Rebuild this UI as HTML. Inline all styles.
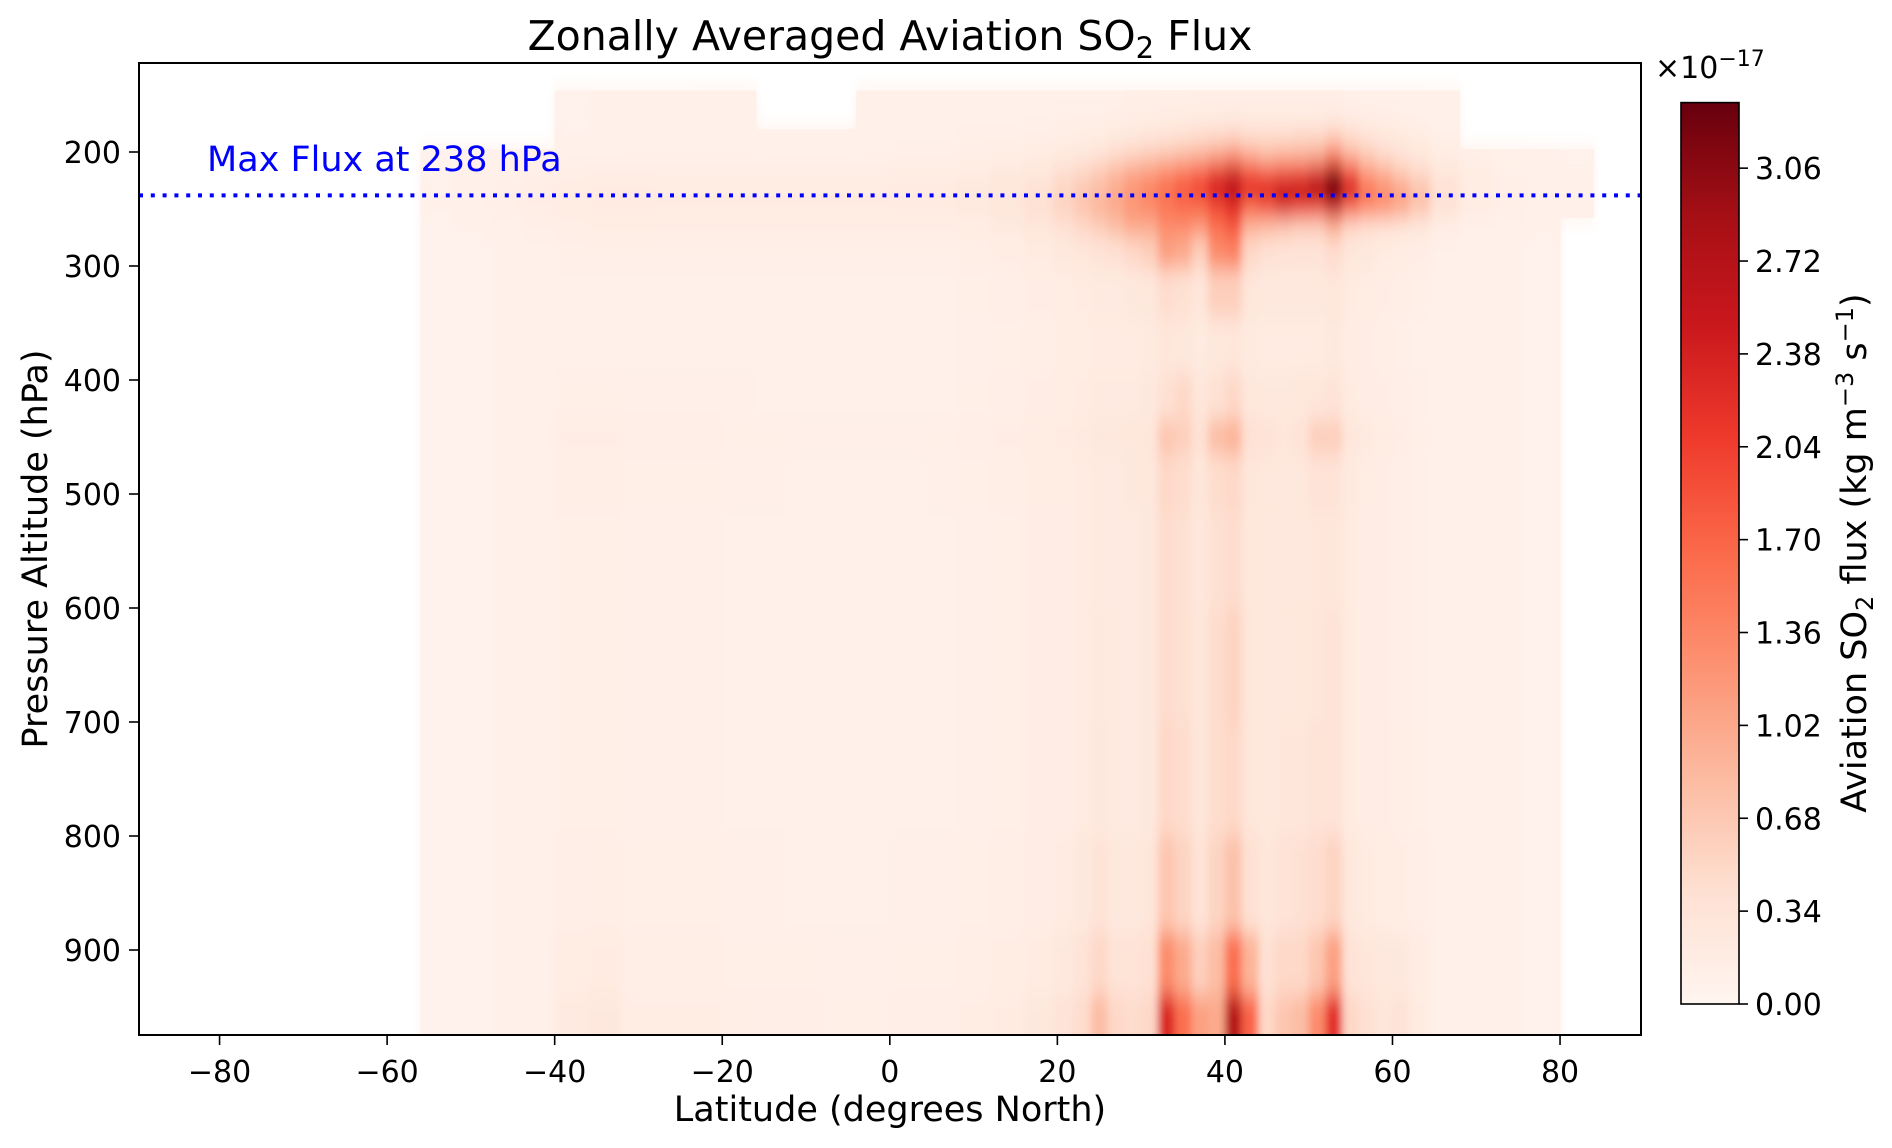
<!DOCTYPE html>
<html><head><meta charset="utf-8">
<style>
html,body{margin:0;padding:0;background:#fff;}
svg{display:block;font-family:"DejaVu Sans","Liberation Sans",sans-serif;}
</style></head>
<body>
<svg id="chart" width="1892" height="1148" viewBox="0 0 1892 1148" xmlns="http://www.w3.org/2000/svg">
<defs>
<clipPath id="plotclip"><rect x="139" y="63" width="1502" height="972"/></clipPath>
<filter id="blur" x="-5%" y="-10%" width="110%" height="120%"><feGaussianBlur stdDeviation="4 11"/></filter>
<linearGradient id="cbgrad" x1="0" y1="1" x2="0" y2="0">
<stop offset="0" stop-color="#fff5f0"/><stop offset="0.125" stop-color="#fee0d2"/><stop offset="0.25" stop-color="#fcbba1"/><stop offset="0.375" stop-color="#fc9272"/><stop offset="0.5" stop-color="#fb6a4a"/><stop offset="0.625" stop-color="#ef3b2c"/><stop offset="0.75" stop-color="#cb181d"/><stop offset="0.875" stop-color="#a50f15"/><stop offset="1" stop-color="#67000d"/>
</linearGradient>
</defs>
<text x="890" y="50" font-size="41" text-anchor="middle">Zonally Averaged Aviation SO<tspan font-size="29" dy="8">2</tspan><tspan dy="-8"> Flux</tspan></text>
<g id="heat" clip-path="url(#plotclip)"></g>
<g id="axes"></g>
<g id="cbar"></g>
</svg>
<script>
const lats = [-54,-50,-46,-42,-38,-34,-30,-26,-22,-18,-14,-10,-6,-2,2,6,10,14,18,21,23,25,27,29,31,33,35,37,39,41,43,45,47,49,51,53,55,57,59,61,63,66,70,74,78,82];
const levels = [150,170,190,205,220,235,250,265,285,320,370,420,450,480,550,650,750,850,920,960];
const N = null;
const flux = [
[N,N,N,N,0.07,0.08,0.08,0.08,0.09,0.09,N,N,N,0.09,0.09,0.09,0.1,0.1,0.1,0.1,0.1,0.1,0.1,0.12,0.12,0.12,0.12,0.12,0.12,0.12,0.12,0.12,0.12,0.12,0.12,0.12,0.1,0.1,0.1,0.1,0.1,0.08,N,N,N,N],
[N,N,N,N,0.07,0.08,0.08,0.08,0.09,0.09,N,N,N,0.09,0.09,0.1,0.1,0.1,0.1,0.12,0.12,0.12,0.14,0.15,0.16,0.18,0.18,0.2,0.2,0.22,0.2,0.2,0.2,0.2,0.2,0.22,0.18,0.15,0.14,0.12,0.1,0.08,N,N,N,N],
[N,N,N,N,0.08,0.08,0.09,0.09,0.1,0.1,0.1,0.1,0.1,0.1,0.1,0.1,0.12,0.12,0.14,0.16,0.18,0.2,0.25,0.3,0.35,0.4,0.45,0.5,0.55,0.6,0.5,0.5,0.5,0.55,0.55,0.7,0.5,0.4,0.3,0.25,0.2,0.12,N,N,N,N],
[0.07,0.07,0.07,0.08,0.1,0.1,0.1,0.1,0.1,0.1,0.1,0.1,0.1,0.1,0.12,0.12,0.14,0.16,0.2,0.25,0.3,0.4,0.5,0.6,0.7,0.8,0.9,1.0,1.2,1.4,1.1,0.9,1.0,1.0,1.1,1.6,1.0,0.7,0.5,0.4,0.3,0.2,0.12,0.1,0.08,0.07],
[0.07,0.08,0.1,0.12,0.14,0.16,0.16,0.16,0.16,0.16,0.16,0.16,0.16,0.16,0.18,0.18,0.2,0.25,0.3,0.45,0.55,0.7,0.9,1.1,1.2,1.4,1.6,1.8,2.2,2.5,2.0,1.9,2.0,2.1,2.4,3.0,2.0,1.2,1.0,0.7,0.5,0.3,0.18,0.12,0.1,0.08],
[0.08,0.1,0.12,0.15,0.2,0.22,0.22,0.2,0.2,0.2,0.2,0.2,0.2,0.2,0.22,0.22,0.25,0.3,0.4,0.55,0.7,0.8,1.0,1.2,1.4,1.6,1.8,2.0,2.4,2.6,2.2,2.3,2.6,2.6,2.8,3.3,2.4,1.6,1.3,1.1,0.8,0.4,0.2,0.12,0.1,0.08],
[0.08,0.1,0.12,0.15,0.18,0.2,0.2,0.2,0.2,0.2,0.2,0.2,0.2,0.2,0.2,0.2,0.22,0.3,0.4,0.55,0.7,0.9,1.0,1.2,1.3,1.5,1.6,1.6,1.9,2.2,1.6,1.8,2.2,2.0,1.9,2.4,1.6,1.3,1.2,1.0,0.7,0.35,0.18,0.12,0.1,0.08],
[0.07,0.08,0.1,0.12,0.14,0.16,0.16,0.15,0.15,0.15,0.15,0.15,0.15,0.15,0.15,0.15,0.18,0.22,0.3,0.4,0.5,0.6,0.8,1.0,1.0,1.3,1.3,1.2,1.6,1.8,0.9,0.8,0.7,0.6,0.6,0.9,0.5,0.4,0.35,0.3,0.25,0.15,0.1,0.09,0.08,N],
[0.07,0.07,0.08,0.1,0.12,0.12,0.12,0.12,0.12,0.12,0.12,0.12,0.12,0.12,0.12,0.12,0.14,0.16,0.2,0.25,0.3,0.35,0.4,0.5,0.6,1.1,1.0,0.6,1.3,1.4,0.5,0.4,0.35,0.35,0.35,0.45,0.3,0.25,0.2,0.18,0.15,0.1,0.08,0.08,0.07,N],
[0.07,0.07,0.08,0.09,0.1,0.1,0.1,0.1,0.1,0.1,0.1,0.1,0.1,0.1,0.1,0.1,0.12,0.13,0.15,0.18,0.2,0.22,0.22,0.25,0.28,0.45,0.4,0.3,0.6,0.6,0.3,0.25,0.25,0.25,0.25,0.3,0.2,0.18,0.15,0.14,0.12,0.09,0.08,0.08,0.07,N],
[0.07,0.07,0.08,0.09,0.1,0.1,0.1,0.1,0.1,0.1,0.1,0.1,0.1,0.1,0.1,0.1,0.11,0.12,0.14,0.16,0.18,0.2,0.2,0.2,0.22,0.3,0.28,0.22,0.28,0.3,0.22,0.2,0.2,0.2,0.2,0.24,0.18,0.15,0.14,0.12,0.1,0.08,0.08,0.08,0.07,N],
[0.07,0.07,0.08,0.09,0.12,0.12,0.11,0.11,0.11,0.11,0.1,0.1,0.1,0.1,0.1,0.1,0.12,0.13,0.15,0.18,0.2,0.22,0.22,0.22,0.25,0.4,0.5,0.3,0.4,0.5,0.28,0.25,0.25,0.28,0.3,0.35,0.2,0.17,0.15,0.13,0.11,0.08,0.08,0.08,0.07,N],
[0.07,0.07,0.08,0.1,0.15,0.15,0.13,0.13,0.13,0.12,0.12,0.11,0.11,0.11,0.11,0.12,0.13,0.15,0.18,0.2,0.22,0.25,0.25,0.28,0.3,0.7,0.6,0.4,0.8,0.9,0.4,0.35,0.3,0.35,0.6,0.6,0.3,0.22,0.18,0.15,0.12,0.09,0.08,0.08,0.07,N],
[0.07,0.07,0.08,0.1,0.14,0.14,0.12,0.12,0.12,0.11,0.11,0.1,0.1,0.1,0.1,0.11,0.12,0.14,0.16,0.18,0.2,0.22,0.22,0.25,0.28,0.5,0.45,0.3,0.45,0.5,0.3,0.28,0.25,0.28,0.35,0.35,0.22,0.18,0.15,0.13,0.11,0.08,0.08,0.08,0.07,N],
[0.07,0.07,0.08,0.09,0.12,0.12,0.11,0.11,0.11,0.1,0.1,0.1,0.1,0.1,0.1,0.1,0.11,0.12,0.15,0.17,0.2,0.22,0.22,0.22,0.25,0.45,0.4,0.28,0.4,0.45,0.28,0.25,0.25,0.25,0.3,0.3,0.2,0.17,0.15,0.13,0.11,0.08,0.08,0.08,0.07,N],
[0.07,0.07,0.08,0.09,0.12,0.12,0.11,0.11,0.11,0.1,0.1,0.1,0.1,0.1,0.1,0.1,0.11,0.12,0.15,0.17,0.2,0.24,0.22,0.22,0.25,0.45,0.4,0.3,0.45,0.55,0.3,0.25,0.28,0.28,0.3,0.35,0.2,0.17,0.15,0.13,0.11,0.08,0.08,0.08,0.07,N],
[0.07,0.07,0.08,0.09,0.12,0.12,0.11,0.11,0.11,0.1,0.1,0.1,0.1,0.1,0.1,0.1,0.11,0.12,0.15,0.17,0.2,0.25,0.22,0.22,0.25,0.5,0.45,0.3,0.45,0.5,0.3,0.25,0.3,0.3,0.35,0.35,0.2,0.17,0.15,0.14,0.12,0.08,0.08,0.08,0.07,N],
[0.07,0.07,0.08,0.09,0.13,0.14,0.12,0.12,0.12,0.11,0.11,0.1,0.1,0.1,0.11,0.11,0.12,0.14,0.17,0.2,0.25,0.35,0.25,0.25,0.3,0.7,0.55,0.35,0.55,0.75,0.4,0.3,0.35,0.4,0.45,0.55,0.25,0.2,0.18,0.16,0.13,0.09,0.08,0.08,0.07,N],
[0.07,0.07,0.08,0.1,0.18,0.2,0.14,0.14,0.14,0.12,0.12,0.12,0.11,0.11,0.12,0.12,0.14,0.16,0.2,0.25,0.35,0.5,0.35,0.35,0.4,1.3,1.0,0.6,0.8,1.6,0.9,0.4,0.5,0.5,0.7,1.1,0.35,0.3,0.25,0.25,0.18,0.1,0.08,0.08,0.07,N],
[0.07,0.07,0.08,0.1,0.22,0.25,0.16,0.16,0.16,0.14,0.13,0.13,0.12,0.12,0.13,0.13,0.16,0.2,0.25,0.35,0.45,0.8,0.5,0.45,0.5,2.3,1.6,1.1,1.0,2.7,1.7,0.5,0.7,0.8,1.3,2.2,0.5,0.4,0.3,0.35,0.2,0.1,0.08,0.08,0.07,N]
];
const cbTicks = [0.00,0.34,0.68,1.02,1.36,1.70,2.04,2.38,2.72,3.06];
const xTicks = [-80,-60,-40,-20,0,20,40,60,80];
const yTicks = [200,300,400,500,600,700,800,900];
const maxFluxP = 238;

const VMAX = 3.3;
const xs = lat => 889.8 + lat * 8.378;
const ys = p => 152 + (p - 200) * 1.14;
const cy = v => 1004 - v * (901.4 / VMAX);
const stops = [[0,[255,245,240]],[0.125,[254,224,210]],[0.25,[252,187,161]],[0.375,[252,146,114]],[0.5,[251,106,74]],[0.625,[239,59,44]],[0.75,[203,24,29]],[0.875,[165,15,21]],[1,[103,0,13]]];
function cmap(v){
  let t = Math.max(0, Math.min(1, v / VMAX));
  for (let i = 1; i < stops.length; i++) {
    if (t <= stops[i][0]) {
      const a = stops[i-1], b = stops[i], f = (t - a[0]) / (b[0] - a[0]);
      const c = a[1].map((x, k) => Math.round(x + (b[1][k] - x) * f));
      return `rgb(${c[0]},${c[1]},${c[2]})`;
    }
  }
  return 'rgb(103,0,13)';
}
const NS = 'http://www.w3.org/2000/svg';
function mk(tag, attrs, parent){ const e = document.createElementNS(NS, tag); for (const k in attrs) e.setAttribute(k, attrs[k]); parent.appendChild(e); return e; }

const latEdges = lats.map((l, i) => i === 0 ? l - 2 : (lats[i-1] + l) / 2); latEdges.push(lats[lats.length-1] + 2);
const pEdges = levels.map((p, i) => i === 0 ? 146 : (levels[i-1] + p) / 2); pEdges.push(975);

const heat = document.getElementById('heat');
const crisp = mk('g', {}, heat);


const soft = mk('g', {filter: 'url(#blur)'}, heat);


for (let j = 0; j < levels.length; j++) {
  for (let i = 0; i < lats.length; i++) {
    const v = flux[j][i];
    if (v === null) continue;
    const x0 = xs(latEdges[i]), x1 = xs(latEdges[i+1]), y0 = ys(pEdges[j]), y1 = ys(pEdges[j+1]);
    const r1 = mk('rect', {x: x0, y: y0, width: x1 - x0 + 0.6, height: y1 - y0 + 0.6, fill: cmap(Math.min(v, 0.12))}, crisp);
    
    
    const extra = (j === levels.length - 1) ? 30 : 0;
    const r2 = mk('rect', {x: x0, y: y0, width: x1 - x0 + 0.6, height: y1 - y0 + 0.6 + extra, fill: cmap(v)}, soft);
    
    
  }
}

const axes = document.getElementById('axes');
const ml = mk('line', {x1: 139, x2: 1641, y1: ys(maxFluxP), y2: ys(maxFluxP), stroke: '#0000ff', 'stroke-width': 4, 'stroke-dasharray': '4 7.8'}, axes);


const mt = mk('text', {x: 207, y: 171, 'font-size': 35, fill: '#0000ff'}, axes);
mt.textContent = 'Max Flux at ' + maxFluxP + ' hPa';


const frame = mk('rect', {x: 139, y: 63, width: 1502, height: 972, fill: 'none', stroke: '#000', 'stroke-width': 2}, axes);


xTicks.forEach(t => {
  const x = xs(t);
  const l = mk('line', {x1: x, x2: x, y1: 1035, y2: 1045, stroke: '#000', 'stroke-width': 1.6}, axes);
  
  
  const tx = mk('text', {x: x, y: 1082, 'font-size': 30, 'text-anchor': 'middle'}, axes);
  tx.textContent = t < 0 ? '\u2212' + Math.abs(t) : String(t);
  
  
});
yTicks.forEach(t => {
  const y = ys(t);
  const l = mk('line', {x1: 129, x2: 139, y1: y, y2: y, stroke: '#000', 'stroke-width': 1.6}, axes);
  
  
  const tx = mk('text', {x: 121, y: y + 11, 'font-size': 30, 'text-anchor': 'end'}, axes);
  tx.textContent = String(t);
  
  
});
const xl = mk('text', {x: 890, y: 1121, 'font-size': 35, 'text-anchor': 'middle'}, axes);
xl.textContent = 'Latitude (degrees North)';


const yl = mk('text', {x: 0, y: 0, 'font-size': 35, 'text-anchor': 'middle', transform: 'translate(47,549) rotate(-90)'}, axes);
yl.textContent = 'Pressure Altitude (hPa)';



const cb = document.getElementById('cbar');
const cr = mk('rect', {x: 1681, y: cy(VMAX), width: 58, height: 1004 - cy(VMAX), fill: 'url(#cbgrad)', stroke: '#000', 'stroke-width': 1.6}, cb);


cbTicks.forEach(t => {
  const y = cy(t);
  const l = mk('line', {x1: 1739, x2: 1748, y1: y, y2: y, stroke: '#000', 'stroke-width': 1.6}, cb);
  
  
  const tx = mk('text', {x: 1755, y: y + 11, 'font-size': 30}, cb);
  tx.textContent = t.toFixed(2);
  
  
});
const ex = mk('text', {x: 1655, y: 78, 'font-size': 30}, cb);
ex.innerHTML = '\u00d710<tspan font-size="22" dy="-12">\u221217</tspan>';


const cl = mk('text', {x: 0, y: 0, 'font-size': 35, 'text-anchor': 'middle', transform: 'translate(1866,553) rotate(-90)'}, cb);
cl.innerHTML = 'Aviation SO<tspan font-size="24" dy="7">2</tspan><tspan dy="-7"> flux (kg m</tspan><tspan font-size="24" dy="-13">\u22123</tspan><tspan dy="13"> s</tspan><tspan font-size="24" dy="-13">\u22121</tspan><tspan dy="13">)</tspan>';


</script>
</body></html>
